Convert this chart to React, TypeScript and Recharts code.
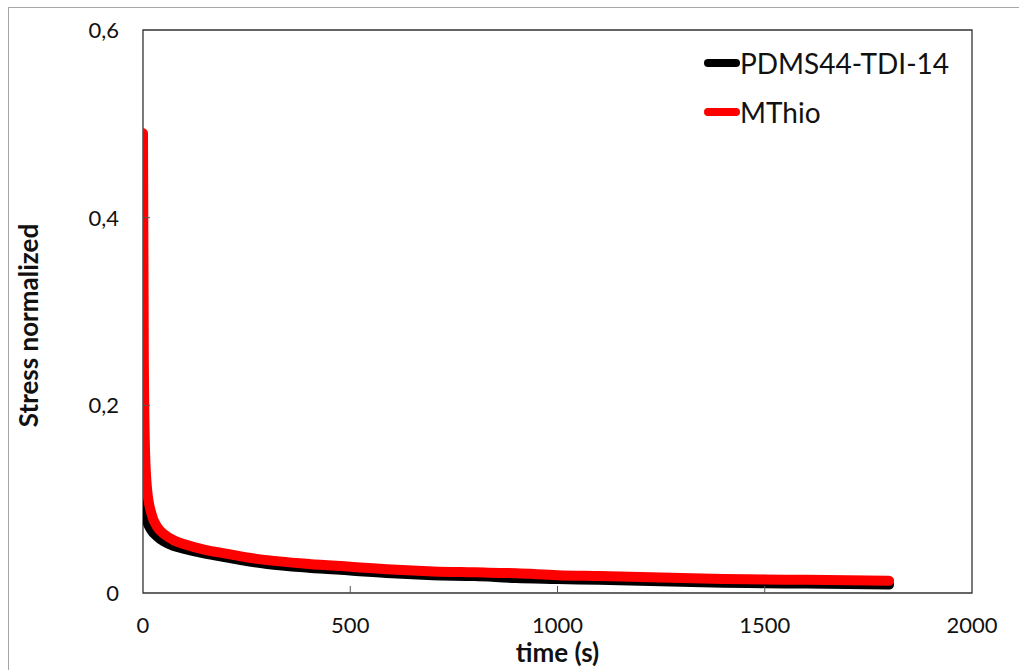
import React from "react";
import {
  LineChart,
  Line,
  XAxis,
  YAxis,
  Legend,
  ReferenceArea,
} from "recharts";

// time in seconds
const times = [0, 2, 5, 10, 20, 35, 50, 75, 100, 150, 200, 250, 300, 400, 500, 600, 700, 800, 900, 1000, 1100, 1200, 1300, 1400, 1500, 1600, 1700, 1800];
const pdms = [0.115, 0.1, 0.088, 0.077, 0.067, 0.06, 0.055, 0.05, 0.047, 0.042, 0.038, 0.034, 0.031, 0.027, 0.024, 0.021, 0.019, 0.018, 0.016, 0.015, 0.014, 0.013, 0.012, 0.011, 0.0105, 0.01, 0.0095, 0.009];
const mthio = [0.49, 0.25, 0.15, 0.11, 0.085, 0.07, 0.063, 0.056, 0.052, 0.046, 0.042, 0.038, 0.035, 0.031, 0.028, 0.025, 0.023, 0.022, 0.021, 0.019, 0.018, 0.017, 0.016, 0.015, 0.0145, 0.014, 0.0135, 0.013];
const seriesNames = ["PDMS44-TDI-14", "MThio"];
const xTicks = [0, 500, 1000, 1500, 2000];
const yTicks = [0, 0.2, 0.4, 0.6];

const data = times.map((t, i) => ({ t, pdms: pdms[i], mthio: mthio[i] }));

const font = "Lato, 'Open Sans', sans-serif";

const XTick = (props: any) => {
  const { x, y, payload } = props;
  const inner = payload.value !== 0 && payload.value !== 2000;
  return (
    <g>
      {inner && <line x1={x} x2={x} y1={y - 25} y2={y - 32} stroke="#555" strokeWidth={1} />}
      <text x={x} y={y} dy={15} textAnchor="middle" fontSize={22} fontFamily={font} fill="#111">
        {payload.value}
      </text>
    </g>
  );
};

const YTick = (props: any) => {
  const { x, y, payload } = props;
  const inner = payload.value !== 0 && payload.value !== 0.6;
  return (
    <g>
      {inner && <line x1={x + 24} x2={x + 31} y1={y} y2={y} stroke="#555" strokeWidth={1} />}
      <text x={x} y={y} dy={8} textAnchor="end" fontSize={22} fontFamily={font} fill="#111">
        {String(payload.value).replace(".", ",")}
      </text>
    </g>
  );
};

const LegendBox = (props: any) => {
  const items = [...(props.payload || [])].sort(
    (a: any, b: any) => seriesNames.indexOf(a.value) - seriesNames.indexOf(b.value)
  );
  return (
    <div style={{ fontFamily: font }}>
      {items.map((p: any) => (
        <div key={p.value} style={{ display: "flex", alignItems: "center", height: 49 }}>
          <svg width={36} height={12}>
            <line x1={4} x2={32} y1={6} y2={6} stroke={p.color} strokeWidth={8} strokeLinecap="round" />
          </svg>
          <span style={{ fontSize: 28, color: "#111" }}>{p.value}</span>
        </div>
      ))}
    </div>
  );
};

export default function App() {
  return (
    <div style={{ position: "absolute", left: 0, top: 0, width: 1019, height: 670, overflow: "hidden", background: "#fff" }}>
      <div style={{ position: "absolute", left: 8, top: 7, width: 1100, height: 800, borderTop: "1px solid #a6a6a6", borderLeft: "1px solid #a6a6a6" }} />
      <div style={{ position: "absolute", left: 0, top: 0 }}>
        <LineChart width={1019} height={670} data={data} margin={{ top: 30, right: 47, bottom: 47, left: 0 }}>
          <XAxis
            dataKey="t"
            type="number"
            domain={[0, 2000]}
            ticks={xTicks}
            allowDataOverflow
            tickSize={0}
            tickMargin={25}
            tick={<XTick />}
            axisLine={false}
            label={{
              content: (p: any) => (
                <text
                  x={p.viewBox.x + p.viewBox.width / 2}
                  y={662}
                  textAnchor="middle"
                  fontSize={26}
                  fontWeight="bold"
                  fontFamily={font}
                  fill="#111"
                >
                  time (s)
                </text>
              ),
            }}
          />
          <YAxis
            type="number"
            domain={[0, 0.6]}
            ticks={yTicks}
            width={143}
            tickSize={0}
            tickMargin={24}
            tick={<YTick />}
            axisLine={false}
            label={{
              content: (p: any) => (
                <text
                  x={0}
                  y={0}
                  transform={`translate(38, ${p.viewBox.y + p.viewBox.height / 2 + 14}) rotate(-90)`}
                  textAnchor="middle"
                  fontSize={26}
                  fontWeight="bold"
                  fontFamily={font}
                  fill="#111"
                >
                  Stress normalized
                </text>
              ),
            }}
          />
          <ReferenceArea x1={0} x2={2000} y1={0} y2={0.6} fill="none" stroke="#333" strokeWidth={1.3} ifOverflow="visible" />
          <Line
            type="monotone"
            dataKey="pdms"
            name={seriesNames[0]}
            stroke="#000000"
            strokeWidth={10}
            strokeLinecap="round"
            strokeLinejoin="round"
            dot={false}
            isAnimationActive={false}
          />
          <Line
            type="monotone"
            dataKey="mthio"
            name={seriesNames[1]}
            stroke="#ff0000"
            strokeWidth={10}
            strokeLinecap="round"
            strokeLinejoin="round"
            dot={false}
            isAnimationActive={false}
          />
          <Legend
            content={<LegendBox />}
            layout="vertical"
            verticalAlign="middle"
            align="center"
            wrapperStyle={{ top: 38, left: 704, width: 300 }}
          />
        </LineChart>
      </div>
    </div>
  );
}
